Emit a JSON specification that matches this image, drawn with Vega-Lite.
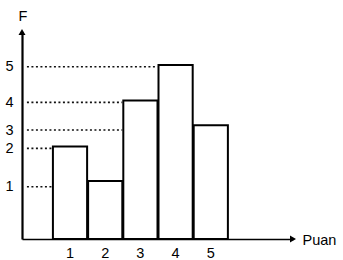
{
  "$schema": "https://vega.github.io/schema/vega-lite/v6.json",
  "width": 271,
  "height": 207,
  "autosize": {"type": "none"},
  "padding": {"left": 22, "top": 32, "right": 50, "bottom": 21},
  "background": "white",
  "config": {
    "view": {"stroke": null},
    "font": "Liberation Sans",
    "axis": {"labelFont": "Liberation Sans", "titleFont": "Liberation Sans", "labelColor": "black", "titleColor": "black", "grid": false, "ticks": false, "domainColor": "black"}
  },
  "datasets": {
    "bars": [
      {"puan": 1, "from": 0.5, "to": 1.5, "F": 2.67},
      {"puan": 2, "from": 1.5, "to": 2.5, "F": 1.68},
      {"puan": 3, "from": 2.5, "to": 3.5, "F": 4.0},
      {"puan": 4, "from": 3.5, "to": 4.5, "F": 5.03},
      {"puan": 5, "from": 4.5, "to": 5.5, "F": 3.29}
    ],
    "levels": [
      {"f": 1, "pos": 1.51, "start": -0.21, "end": 0.5},
      {"f": 2, "pos": 2.62, "start": -0.21, "end": 0.5},
      {"f": 3, "pos": 3.15, "start": -0.21, "end": 2.5},
      {"f": 4, "pos": 3.95, "start": -0.21, "end": 2.5},
      {"f": 5, "pos": 4.98, "start": -0.21, "end": 3.5}
    ]
  },
  "layer": [
    {
      "data": {"name": "bars"},
      "mark": {"type": "bar", "fill": "white", "stroke": "black", "strokeWidth": 2},
      "encoding": {
        "x": {
          "field": "from", "type": "quantitative", "bin": "binned",
          "scale": {"domain": [-0.35, 7.35], "nice": false, "zero": false},
          "axis": {
            "values": [1, 2, 3, 4, 5], "format": "d", "domainWidth": 1.5,
            "labelFontSize": 14.5, "labelPadding": 7, "labelDx": -2.5, "labelFlush": false, "labelOverlap": false,
            "title": "Puan", "titleFontSize": 14.5, "titleFontWeight": "normal",
            "titleAnchor": "start", "titleAlign": "left", "titleBaseline": "middle",
            "titleX": 280, "titleY": 1, "titleAngle": 0
          }
        },
        "x2": {"field": "to"},
        "y": {
          "field": "F", "type": "quantitative",
          "scale": {"domain": [0, 5.983], "nice": false, "zero": true},
          "axis": {
            "values": [1.51, 2.62, 3.15, 3.95, 4.98],
            "labelExpr": "datum.value < 2 ? '1' : datum.value < 3 ? '2' : datum.value < 3.5 ? '3' : datum.value < 4.5 ? '4' : '5'",
            "domainWidth": 2.2, "labelFontSize": 14.5, "labelPadding": 9,
            "labelFlush": false, "labelOverlap": false,
            "title": "F", "titleFontSize": 14.5, "titleFontWeight": "normal", "titleAngle": 0,
            "titleAlign": "center", "titleBaseline": "middle", "titleX": 0.5, "titleY": -16
          }
        }
      }
    },
    {
      "data": {"name": "levels"},
      "mark": {"type": "rule", "strokeDash": [2, 2.5], "strokeWidth": 1.6, "color": "#111"},
      "encoding": {
        "x": {"field": "start", "type": "quantitative"},
        "x2": {"field": "end"},
        "y": {"field": "pos", "type": "quantitative"}
      }
    },
    {
      "data": {"values": [{"shape": "triangle-up", "px": -0.35, "py": 5.983}, {"shape": "triangle-right", "px": 7.35, "py": 0}]},
      "mark": {"type": "point", "filled": true, "color": "black", "opacity": 1, "size": 49, "clip": false},
      "encoding": {
        "x": {"field": "px", "type": "quantitative"},
        "y": {"field": "py", "type": "quantitative"},
        "shape": {"field": "shape", "type": "nominal", "scale": null, "legend": null}
      }
    }
  ]
}
